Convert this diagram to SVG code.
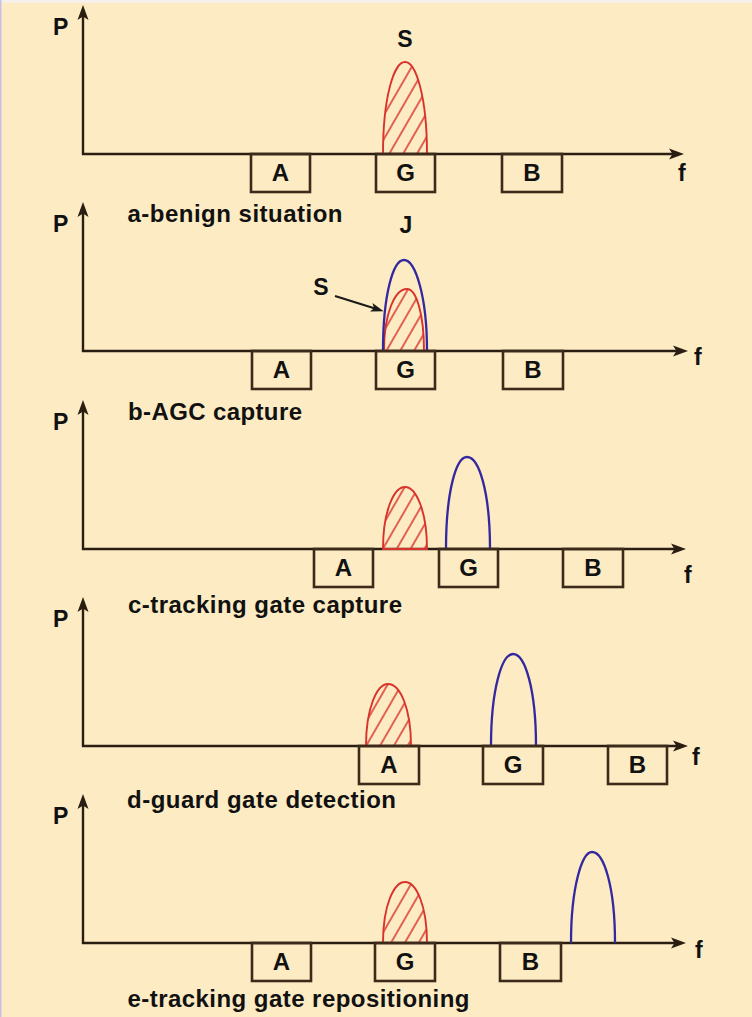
<svg xmlns="http://www.w3.org/2000/svg" width="752" height="1017" viewBox="0 0 752 1017">
<defs>
<style>
.bg{fill:#FDEBC3}
.ax{stroke:#2a1d12;stroke-width:2.4;fill:none}
.box{fill:none;stroke:#3c2a1a;stroke-width:2.6}
.lbl{font-family:"Liberation Sans",Arial,sans-serif;font-weight:bold;font-size:23px;fill:#111}
.bx{font-size:24px;text-anchor:middle}
.cap{font-size:24px}
.bl{text-anchor:middle}
.red{fill:url(#hatch);stroke:#D8322C;stroke-width:1.9}
.blue{fill:none;stroke:#3328A0;stroke-width:2.3}
.ptr{stroke:#1a1a1a;stroke-width:2.2;fill:none}
</style>
<pattern id="hatch" patternUnits="userSpaceOnUse" width="12" height="10" patternTransform="rotate(30)">
<line x1="6" y1="-1" x2="6" y2="11" stroke="#D8322C" stroke-width="1.5"/>
</pattern>
<marker id="ah" markerUnits="userSpaceOnUse" markerWidth="16" markerHeight="12" refX="5" refY="6" orient="auto">
<path d="M0,0.5 L15,6 L0,11.5 L3.5,6 Z" fill="#2a1d12"/>
</marker>
<marker id="ahs" markerUnits="userSpaceOnUse" markerWidth="14" markerHeight="11" refX="4" refY="5" orient="auto">
<path d="M0,0.5 L13,5 L0,9.5 L3,5 Z" fill="#1a1a1a"/>
</marker>
</defs>
<rect class="bg" x="0" y="0" width="752" height="1017"/>
<rect x="0" y="0" width="752" height="3" fill="#F7EFE9"/>
<rect x="0" y="0" width="1.5" height="1017" fill="#CBBFE6"/>

<g id="connectors">
<line class="ax" x1="83" y1="155" x2="83" y2="15" marker-end="url(#ah)"/>
<line class="ax" x1="82" y1="154" x2="674" y2="154" marker-end="url(#ah)"/>
<line class="ax" x1="83" y1="352" x2="83" y2="212" marker-end="url(#ah)"/>
<line class="ax" x1="82" y1="351" x2="678" y2="351" marker-end="url(#ah)"/>
<line class="ax" x1="83" y1="550" x2="83" y2="410" marker-end="url(#ah)"/>
<line class="ax" x1="82" y1="549" x2="676" y2="549" marker-end="url(#ah)"/>
<line class="ax" x1="83" y1="747" x2="83" y2="607" marker-end="url(#ah)"/>
<line class="ax" x1="82" y1="746" x2="678" y2="746" marker-end="url(#ah)"/>
<line class="ax" x1="83" y1="944" x2="83" y2="804" marker-end="url(#ah)"/>
<line class="ax" x1="82" y1="943" x2="676" y2="943" marker-end="url(#ah)"/>
<line class="ptr" x1="335" y1="296" x2="375" y2="308.5" marker-end="url(#ahs)"/>
</g>

<g id="panel-a">
<text class="lbl" x="53" y="35">P</text>
<text class="lbl" x="678" y="181">f</text>
<path id="a-signal" class="red" d="M383,154 C383,97 394,62 405,62 C416,62 427,97 427,154 Z"/>
<text class="lbl bl" x="405" y="47">S</text>
<g id="a-box-A"><rect class="box" x="251" y="154" width="59" height="38"/><text class="lbl bx" x="280.5" y="181">A</text></g>
<g id="a-box-G"><rect class="box" x="376" y="154" width="59" height="38"/><text class="lbl bx" x="405.5" y="181">G</text></g>
<g id="a-box-B"><rect class="box" x="502" y="154" width="60" height="38"/><text class="lbl bx" x="532" y="181">B</text></g>
<text class="lbl cap" x="127.5" y="222" textLength="215" lengthAdjust="spacing">a-benign situation</text>
</g>

<g id="panel-b">
<text class="lbl" x="53" y="232">P</text>
<text class="lbl" x="694" y="365">f</text>
<path id="b-signal" class="red" d="M384,351 C384,313 395,289 407,289 C416,289 424,313 424,351 Z"/>
<path id="b-jammer" class="blue" d="M383,351 C383,295 393,260 404,260 C415,260 427,295 427,351"/>
<text class="lbl bl" x="406" y="233">J</text>
<text class="lbl bl" x="321" y="295">S</text>
<g id="b-box-A"><rect class="box" x="252" y="351" width="59" height="38"/><text class="lbl bx" x="281.5" y="378">A</text></g>
<g id="b-box-G"><rect class="box" x="376" y="351" width="59" height="38"/><text class="lbl bx" x="405.5" y="378">G</text></g>
<g id="b-box-B"><rect class="box" x="503" y="351" width="60" height="38"/><text class="lbl bx" x="533" y="378">B</text></g>
<text class="lbl cap" x="128" y="420" textLength="174" lengthAdjust="spacing">b-AGC capture</text>
</g>

<g id="panel-c">
<text class="lbl" x="53" y="430">P</text>
<text class="lbl" x="684" y="583">f</text>
<path id="c-signal" class="red" d="M383,549 C383,511 394,487 405,487 C416,487 427,511 427,549 Z"/>
<path id="c-jammer" class="blue" d="M446,549 C446,492 456,457 467,457 C479,457 490,492 490,549"/>
<g id="c-box-A"><rect class="box" x="314" y="549" width="59" height="38"/><text class="lbl bx" x="343.5" y="576">A</text></g>
<g id="c-box-G"><rect class="box" x="439" y="549" width="59" height="38"/><text class="lbl bx" x="468.5" y="576">G</text></g>
<g id="c-box-B"><rect class="box" x="563" y="549" width="60" height="38"/><text class="lbl bx" x="593" y="576">B</text></g>
<text class="lbl cap" x="128" y="613" textLength="274" lengthAdjust="spacing">c-tracking gate capture</text>
</g>

<g id="panel-d">
<text class="lbl" x="53" y="627">P</text>
<text class="lbl" x="692" y="765">f</text>
<path id="d-signal" class="red" d="M366,746 C366,708 377,684 388,684 C400,684 411,708 411,746 Z"/>
<path id="d-jammer" class="blue" d="M491,746 C491,689 502,654 513,654 C525,654 536,689 536,746"/>
<g id="d-box-A"><rect class="box" x="359" y="746" width="60" height="38"/><text class="lbl bx" x="389" y="773">A</text></g>
<g id="d-box-G"><rect class="box" x="483" y="746" width="60" height="38"/><text class="lbl bx" x="513" y="773">G</text></g>
<g id="d-box-B"><rect class="box" x="608" y="746" width="59" height="38"/><text class="lbl bx" x="637.5" y="773">B</text></g>
<text class="lbl cap" x="127" y="808" textLength="269" lengthAdjust="spacing">d-guard gate detection</text>
</g>

<g id="panel-e">
<text class="lbl" x="53" y="824">P</text>
<text class="lbl" x="695" y="958">f</text>
<path id="e-signal" class="red" d="M383,943 C383,905 394,882 405,882 C416,882 427,905 427,943 Z"/>
<path id="e-jammer" class="blue" d="M571,943 C571,887 582,852 592,852 C604,852 615,887 615,943"/>
<g id="e-box-A"><rect class="box" x="252" y="943" width="59" height="38"/><text class="lbl bx" x="281.5" y="970">A</text></g>
<g id="e-box-G"><rect class="box" x="375" y="943" width="60" height="38"/><text class="lbl bx" x="405" y="970">G</text></g>
<g id="e-box-B"><rect class="box" x="500" y="943" width="61" height="38"/><text class="lbl bx" x="530.5" y="970">B</text></g>
<text class="lbl cap" x="127.5" y="1007" textLength="342" lengthAdjust="spacing">e-tracking gate repositioning</text>
</g>
</svg>
